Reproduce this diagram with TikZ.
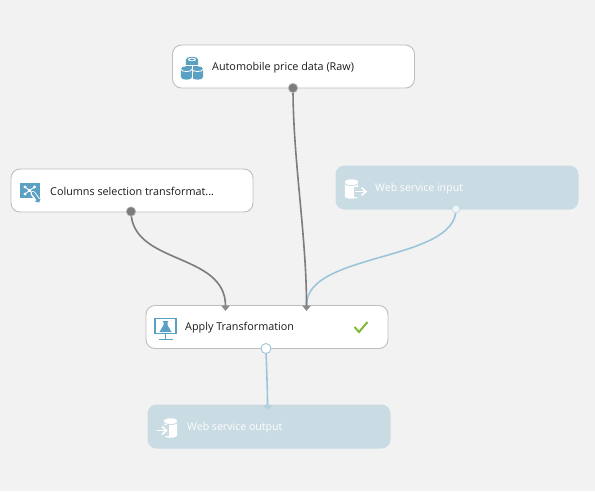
\documentclass[tikz,border=0pt]{standalone}
\usepackage{fontspec}
\setmainfont{Open Sans}
\usetikzlibrary{arrows.meta}
\definecolor{bgc}{HTML}{F2F2F2}
\definecolor{paleblue}{HTML}{C9DBE3}
\definecolor{edgegray}{HTML}{BEBEBE}
\definecolor{wiredark}{HTML}{7C7C7C}
\definecolor{wireblue}{HTML}{9CC4DA}
\definecolor{tipblue}{HTML}{B4D0DE}
\definecolor{iconblue}{HTML}{5AA0C2}
\definecolor{okgreen}{HTML}{7FBA3A}
\definecolor{txt}{HTML}{1A1A1A}
\tikzset{
  modbox/.style={draw=edgegray,line width=0.9pt,fill=white,rounded corners=9pt,minimum width=242pt,minimum height=43pt,inner sep=0pt},
  wsbox/.style={fill=paleblue,rounded corners=9pt,minimum width=243pt,minimum height=44pt,inner sep=0pt},
  lab/.style={anchor=west,inner sep=0pt,font=\fontsize{10.8}{12}\selectfont,text=txt},
  wslab/.style={anchor=west,inner sep=0pt,font=\fontsize{10.6}{12}\selectfont,text=white},
  portdark/.style={circle,fill=wiredark,draw=edgegray,line width=0.6pt,minimum size=9.5pt,inner sep=0pt},
  portpale/.style={circle,fill=white!70!paleblue,draw=wireblue!60!white,line width=0.7pt,minimum size=8pt,inner sep=0pt},
  portopen/.style={circle,fill=white,draw=wireblue,line width=0.9pt,minimum size=10pt,inner sep=0pt},
  darkwire/.style={draw=wiredark,line width=1.6pt,-{Triangle[length=5.5pt,width=8.5pt,color=wiredark!90!white,fill=wiredark!90!white]}},
  bluewire/.style={draw=wireblue,line width=1.6pt},
  bluetip/.style={draw=wireblue,line width=1.6pt,-{Triangle[length=5pt,width=9pt,color=tipblue,fill=tipblue]}},
}
% centre-x, top-y, half width, body height, colour
\newcommand{\cyl}[5]{%
  \fill[#5] (#1-#3,#2) -- (#1-#3,#2+#4) .. controls (#1-#3,#2+#4+3.6) and (#1+#3,#2+#4+3.6) .. (#1+#3,#2+#4) -- (#1+#3,#2)
     .. controls (#1+#3,#2-3.6) and (#1-#3,#2-3.6) .. (#1-#3,#2) -- cycle;
}
% the rim line below the top of a cylinder
\newcommand{\rim}[4]{%
  \draw[#4,line width=0.8pt] (#1-#3,#2) .. controls (#1-#3,#2+3.4) and (#1+#3,#2+3.4) .. (#1+#3,#2);
}
\begin{document}
\begin{tikzpicture}[x=1pt,y=-1pt]
\fill[bgc] (0,0) rectangle (595,491);
\useasboundingbox (0,0) rectangle (595,491);
% boxes
\node[modbox] (auto) at (293.5,66.5) {};
\node[modbox] (cols) at (132,190.5) {};
\node[wsbox] (wsin) at (457,187.5) {};
\node[modbox] (apply) at (267,327) {};
\node[wsbox] (wsout) at (269,426.5) {};
% ports
\coordinate (inA) at (225.5,311);
\coordinate (inB) at (306.5,311);
\coordinate (inC) at (267.5,410);
\coordinate (inBb) at (306.5,305);
% wires
\draw[bluewire] (456,209) .. controls (456,262) and (306.5,252) .. (inBb);
\draw[bluetip] (266,348) .. controls (266.5,370) and (267.5,385) .. (inC);
\draw[darkwire] (131,211) .. controls (131,265) and (225.5,252) .. (inA);
\draw[darkwire] (293,88) .. controls (293,160) and (306.5,235) .. (inB);
\node[portdark] (pauto) at (293,88) {};
\node[portdark] (pcols) at (131,211.5) {};
\node[portpale] (pwsin) at (456,209) {};
\node[portopen] (papply) at (266,348.5) {};
% labels
\node[lab] (lauto) at (212,68) {Automobile price data (Raw)};
\node[lab] (lcols) at (50,191.5) {Columns selection transformat...};
\node[wslab] (lwsin) at (375,188.5) {Web service input};
\node[lab] (lapply) at (185,327.5) {Apply Transformation};
\node[wslab] (lwsout) at (187,427.5) {Web service output};
% icon: three cylinders
\cyl{192}{59.5}{6.2}{7}{iconblue}
\draw[white,line width=0.8pt] (192,59.5) ellipse[x radius=3.6,y radius=1.3];
\draw[white,line width=1pt] (180,65.5) -- (204,65.5);
\cyl{186.5}{69}{5.6}{8}{iconblue}
\cyl{197.5}{69}{5.6}{8}{iconblue}
\rim{186.5}{69}{5.6}{white}
\rim{197.5}{69}{5.6}{white}
\draw[white,line width=0.9pt] (192,66) -- (192,81);
% icon: columns transformation
\fill[iconblue] (20,183) rectangle (40,197.5);
\foreach \a/\b in {25/187,25/194,29.5/190.5,34.5/187}{\fill[white] (\a,\b) circle[radius=1.6];}
\draw[white,line width=0.9pt] (25,187)--(29.5,190.5)--(25,194) (29.5,190.5)--(34.5,187) (29.5,190.5)--(35,195);
\draw[white,line width=5pt,line cap=round] (33,193.5)--(37.5,199.5);
\draw[iconblue,line width=2.6pt,line cap=round] (33,193)--(37.5,199);
\fill[iconblue] (35,201.5) -- (39,202.5) -- (40.5,199) -- (38,198.5) -- cycle;
% icon: web service input
\cyl{351.5}{182}{6.7}{14}{white}
\rim{351.5}{183}{6.7}{paleblue}
\fill[paleblue] (354,186.5) rectangle (368,197);
\draw[white,line width=1.6pt] (355,191.5)--(366,191.5);
\draw[white,line width=1.6pt] (361.5,187.5)--(366,191.5)--(361.5,195.5);
% icon: apply
\draw[iconblue,line width=1.9pt,fill=white] (155,318.5) rectangle (176,333.5);
\fill[iconblue] (162.5,321) -- (168.5,321) -- (167.5,322) -- (167.5,325) -- (171.5,332) -- (159.5,332) -- (163.5,325) -- (163.5,322) -- cycle;
\draw[iconblue,line width=1.4pt] (165.5,334) -- (165.5,339) (158.5,339.3) -- (172.5,339.3);
% check
\draw[okgreen,line width=2pt] (354.5,327) -- (359,332) -- (367.5,322);
% icon: web service output
\cyl{170.5}{421}{6.5}{14}{white}
\rim{170.5}{422}{6.5}{paleblue}
\fill[paleblue] (155,425) rectangle (168.5,436);
\draw[white,line width=1.6pt] (156.5,430.5)--(166.5,430.5);
\draw[white,line width=1.6pt] (162,426.5)--(166.5,430.5)--(162,434.5);
\end{tikzpicture}
\end{document}
